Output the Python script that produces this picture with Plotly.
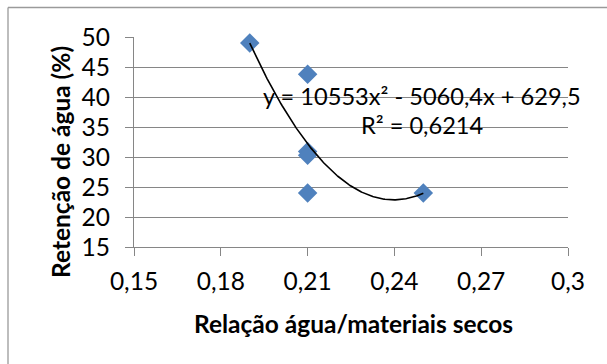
import numpy as np
import plotly.graph_objects as go

# Data
relacao = [0.19, 0.21, 0.21, 0.21, 0.21, 0.25]
retencao = [49.0, 43.8, 30.9, 30.3, 24.0, 24.0]

# Polynomial trendline reported on the chart: y = 10553x² - 5060,4x + 629,5
trend_coefs = [10553, -5060.4, 629.5]
trend_x_range = [0.19, 0.25]

x_tickvals = [0.15, 0.18, 0.21, 0.24, 0.27, 0.30]
x_ticktext = ["0,15", "0,18", "0,21", "0,24", "0,27", "0,3"]
y_tickvals = [15, 20, 25, 30, 35, 40, 45, 50]

eq_text = "y = 10553x² - 5060,4x + 629,5"
r2_text = "R² = 0,6214"

W, H = 607, 364
L, R, T, B = 134, 39, 37, 117
pw, ph = W - L - R, H - T - B

def px_x(p):
    return (p - L) / pw

def px_y(p):
    return (H - B - p) / ph

grey = "#868686"
font = "Lato"
fs = 24.5
tfs = 24.5
efs = 23.6

tx = np.linspace(trend_x_range[0], trend_x_range[1], 200)
ty = np.polyval(trend_coefs, tx)

fig = go.Figure()
fig.add_trace(go.Scatter(
    x=relacao, y=retencao, mode="markers",
    marker=dict(symbol="diamond", size=15, color="#4F81BD",
                line=dict(width=0)),
    cliponaxis=False, showlegend=False, hoverinfo="x+y"))
fig.add_trace(go.Scatter(
    x=tx, y=ty, mode="lines", line=dict(color="black", width=1.6),
    showlegend=False, hoverinfo="skip"))

fig.update_layout(
    width=W, height=H,
    margin=dict(l=L, r=R, t=T, b=B, pad=0),
    paper_bgcolor="white", plot_bgcolor="white",
    font=dict(family=font, size=fs, color="black"),
    xaxis=dict(range=[0.15, 0.30], tickvals=x_tickvals, ticktext=x_ticktext,
               showgrid=False, zeroline=False, showline=True,
               linecolor=grey, linewidth=1.3, ticks="outside", ticklen=8,
               tickcolor=grey, tickwidth=1.3, ticklabelstandoff=4,
               tickfont=dict(family=font, size=fs)),
    yaxis=dict(range=[15, 50], tickvals=y_tickvals,
               showgrid=True, gridcolor=grey, gridwidth=1.3, zeroline=False,
               showline=True, linecolor=grey, linewidth=1.3,
               ticks="outside", ticklen=8, tickcolor=grey, tickwidth=1.3,
               ticklabelstandoff=10, tickfont=dict(family=font, size=fs)),
    annotations=[
        dict(text="<b>Relação água/materiais secos</b>", xref="paper", yref="paper",
             x=px_x(353), y=px_y(323), showarrow=False,
             font=dict(family=font, size=tfs), xanchor="center", yanchor="middle"),
        dict(text="<b>Retenção de água (%)</b>", xref="paper", yref="paper",
             x=px_x(60), y=px_y(162), showarrow=False, textangle=-90,
             font=dict(family=font, size=tfs), xanchor="center", yanchor="middle"),
        dict(text=eq_text, xref="paper", yref="paper",
             x=px_x(422), y=px_y(96), showarrow=False,
             font=dict(family=font, size=efs), xanchor="center", yanchor="middle"),
        dict(text=r2_text, xref="paper", yref="paper",
             x=px_x(422), y=px_y(125), showarrow=False,
             font=dict(family=font, size=efs), xanchor="center", yanchor="middle"),
    ],
    shapes=[
        dict(type="line", xref="paper", yref="paper",
             x0=px_x(8), x1=px_x(8), y0=px_y(7.5), y1=px_y(370),
             line=dict(color="#9a9a9a", width=1.3)),
        dict(type="line", xref="paper", yref="paper",
             x0=px_x(8), x1=px_x(620), y0=px_y(7.5), y1=px_y(7.5),
             line=dict(color="#9a9a9a", width=1.3)),
    ],
)

fig.write_html("out.html")
